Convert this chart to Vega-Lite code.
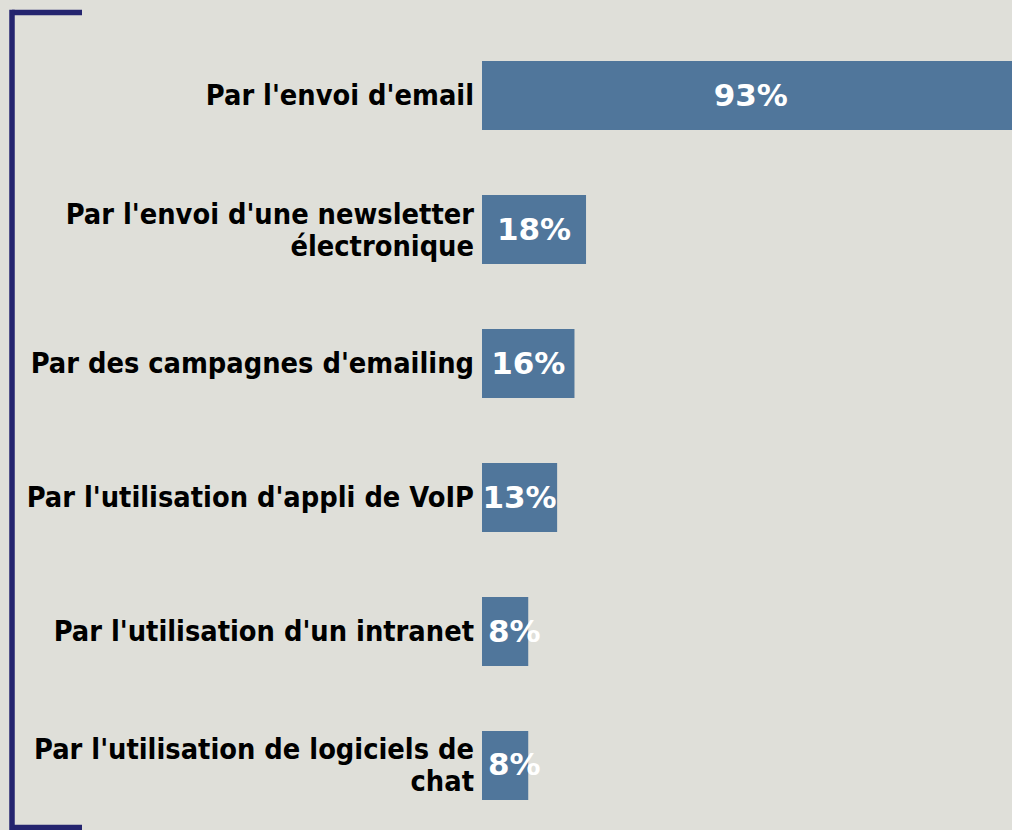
{
  "$schema": "https://vega.github.io/schema/vega-lite/v6.json",
  "width": 530,
  "height": 815,
  "autosize": {"type": "none"},
  "padding": {"left": 482, "top": 12, "right": 0, "bottom": 3},
  "background": "#dfdfd9",
  "config": {"view": {"stroke": null}},
  "data": {
    "values": [
      {"label": "Par l'envoi d'email", "share": 0.93},
      {"label": "Par l'envoi d'une newsletter\nélectronique", "share": 0.18},
      {"label": "Par des campagnes d'emailing", "share": 0.16},
      {"label": "Par l'utilisation d'appli de VoIP", "share": 0.13},
      {"label": "Par l'utilisation d'un intranet", "share": 0.08},
      {"label": "Par l'utilisation de logiciels de\nchat", "share": 0.08}
    ]
  },
  "layer": [
    {
      "encoding": {
        "y": {
          "field": "label",
          "type": "nominal",
          "sort": null,
          "axis": null,
          "scale": {"paddingInner": 0.485, "paddingOuter": 0.284, "align": 0.645}
        }
      },
      "layer": [
        {
          "mark": {"type": "bar", "color": "#50769b"},
          "encoding": {
            "x": {
              "field": "share",
              "type": "quantitative",
              "axis": null,
              "scale": {"domain": [0, 0.917], "nice": false, "zero": true}
            }
          }
        },
        {
          "transform": [{"filter": "indexof(datum.label, '\\n') < 0"}],
          "mark": {
            "type": "text",
            "align": "right",
            "baseline": "middle",
            "dx": -8,
            "font": "DejaVu Sans Condensed",
            "fontSize": 28.7,
            "fontWeight": "bold",
            "color": "#000000"
          },
          "encoding": {
            "x": {"datum": 0, "type": "quantitative"},
            "text": {"field": "label"}
          }
        },
        {
          "transform": [{"filter": "indexof(datum.label, '\\n') >= 0"}],
          "mark": {
            "type": "text",
            "align": "right",
            "baseline": "middle",
            "dx": -8,
            "dy": -15,
            "font": "DejaVu Sans Condensed",
            "fontSize": 28.7,
            "fontWeight": "bold",
            "color": "#000000",
            "lineBreak": "\n",
            "lineHeight": 32
          },
          "encoding": {
            "x": {"datum": 0, "type": "quantitative"},
            "text": {"field": "label"}
          }
        },
        {
          "transform": [
            {"filter": "datum.share >= 0.1"},
            {"calculate": "datum.share / 2", "as": "mid"}
          ],
          "mark": {
            "type": "text",
            "align": "center",
            "baseline": "middle",
            "dy": 1,
            "font": "DejaVu Sans",
            "fontSize": 31,
            "fontWeight": "bold",
            "color": "#ffffff"
          },
          "encoding": {
            "x": {"field": "mid", "type": "quantitative"},
            "text": {"field": "share", "format": ".0%"}
          }
        },
        {
          "transform": [{"filter": "datum.share < 0.1"}],
          "mark": {
            "type": "text",
            "align": "left",
            "baseline": "middle",
            "dx": 6,
            "dy": 1,
            "font": "DejaVu Sans",
            "fontSize": 31,
            "fontWeight": "bold",
            "color": "#ffffff"
          },
          "encoding": {
            "x": {"datum": 0, "type": "quantitative"},
            "text": {"field": "share", "format": ".0%"}
          }
        }
      ]
    },
    {
      "data": {"values": [{"k": 1}]},
      "mark": {"type": "rule", "opacity": 0},
      "encoding": {
        "y": {
          "datum": 0,
          "type": "quantitative",
          "scale": {"domain": [0, 1], "nice": false},
          "axis": {
            "orient": "left",
            "offset": 470.5,
            "values": [0, 1],
            "labels": false,
            "grid": false,
            "title": null,
            "domainColor": "#25256f",
            "domainWidth": 5.5,
            "domainCap": "square",
            "ticks": true,
            "tickColor": "#25256f",
            "tickWidth": 5.5,
            "tickSize": -70
          }
        }
      }
    }
  ],
  "resolve": {"scale": {"y": "independent"}, "axis": {"y": "independent"}}
}
